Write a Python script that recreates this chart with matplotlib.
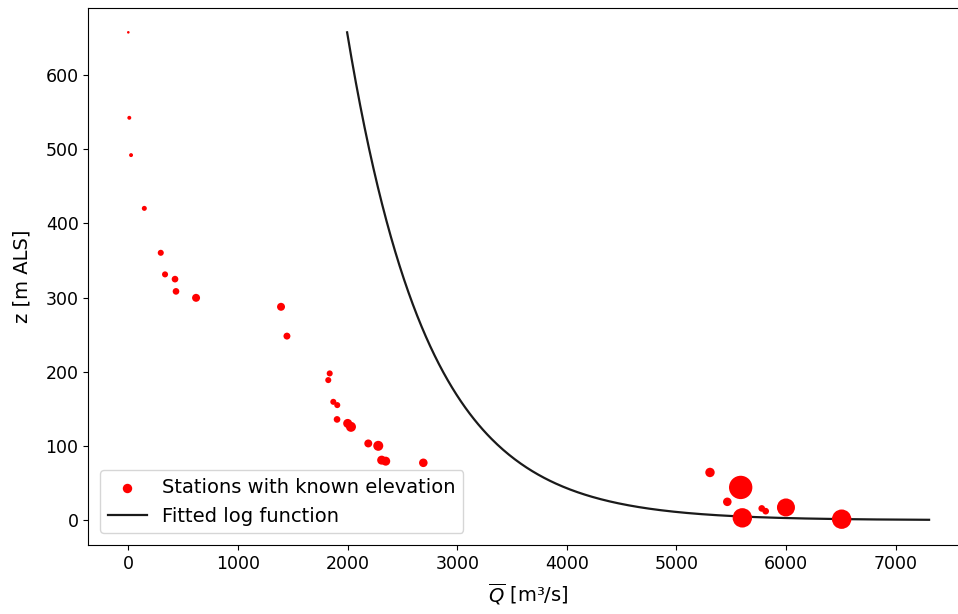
import numpy as np
import matplotlib
matplotlib.use("Agg")
import matplotlib.pyplot as plt

# Stations with known elevation: mean discharge Q [m3/s], elevation z [m ALS], marker size
Q_stations = [0, 9, 25, 146, 296, 335, 426, 435, 618, 1393, 1447, 1837, 1824, 1870, 1906,
              1904, 2001, 2031, 2189, 2280, 2311, 2348, 2691, 5306, 5586, 5464, 5601,
              5778, 5814, 5999, 6507]
z_stations = [657.6, 542.4, 492.1, 420.3, 360.4, 331.3, 324.9, 308.4, 299.7, 287.6, 248.1,
              197.8, 188.8, 159.5, 155.1, 135.8, 130.4, 125.8, 103.4, 100.2, 80.9, 79.5,
              77.3, 64.3, 44.1, 24.7, 3.1, 15.8, 12.1, 17.1, 1.3]
size_stations = [3.5, 8, 8, 13, 19, 19, 23, 23, 33, 33, 25, 19, 19, 19, 19, 23, 42, 52,
                 33, 52, 42, 42, 38, 46, 283, 38, 195, 23, 23, 168, 195]

# Fitted log function: Q = a - b * ln(z)
fit_a = 6765.0
fit_b = 735.0
z_fit_max = 657.6
z_fit_min = 0.48

z_line = np.geomspace(z_fit_max, z_fit_min, 400)
Q_line = fit_a - fit_b * np.log(z_line)

plt.rcParams['font.family'] = ['DejaVu Sans']
plt.rcParams['font.size'] = 12.5

fig = plt.figure(figsize=(9.58, 6.14), dpi=100)
ax = fig.add_axes([88.3 / 958, 1 - 545 / 614, (968.6 - 88.3) / 958, (545 - 8.3) / 614])

ax.scatter(Q_stations, z_stations, s=size_stations, c='red', linewidths=0,
           label='Stations with known elevation', zorder=3)
ax.plot(Q_line, z_line, color='#1a1a1a', lw=1.6, label='Fitted log function', zorder=2)

ax.set_xlim(-365, 7665)
ax.set_ylim(-33.5, 690)
ax.set_xticks([0, 1000, 2000, 3000, 4000, 5000, 6000, 7000])
ax.set_yticks([0, 100, 200, 300, 400, 500, 600])
ax.tick_params(labelsize=12.5)

ax.set_xlabel(r'$\overline{Q}$ [m³/s]', fontsize=14, labelpad=6)
ax.set_ylabel('z [m ALS]', fontsize=14, labelpad=10)

leg = ax.legend(loc='lower left', fontsize=14, borderaxespad=0.6)
leg.legend_handles[0].set_sizes([46])

fig.savefig('out.png', dpi=100)
